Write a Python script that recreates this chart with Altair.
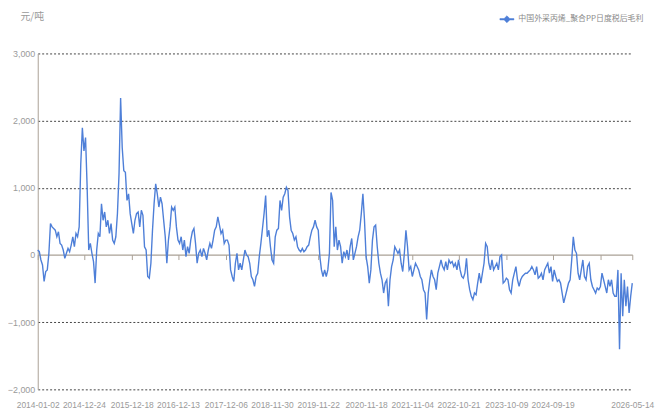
import altair as alt
import pandas as pd

series_name = "中国外采丙烯_聚合PP日度税后毛利"
unit_label = "元/吨"
line_color = "#4e7fd8"

# Daily after-tax margin (元/吨), in time order
seg_2014_2015 = [74, 49, -74, -148, -394, -246, -222, 25, 468, 418, 394, 369, 271, 345, 172, 148,
                 74, -49, 25, 98, 49, 148, 271, 123, 320, 271, 418, 1354, 1895, 1550, 1747, 1009,
                 74, 172, 25, -98, -418, 74, 320, 271, 763, 517, 640, 418, 517, 320, 468, 222,
                 172, 271, 615, 1206, 2338, 1600, 1255, 1230, 812, 911, 615, 468, 320, 517, 615]
seg_2016_2017 = [640, 418, 665, 591, 123, 74, -320, -345, -123, 369, 763, 1058, 911, 714, 862, 763,
                 517, 271, -123, 222, 418, 714, 665, 714, 418, 222, 172, 271, 74, 222, -25, 123,
                 25, 222, 345, 394, 172, -123, 25, 74, -25, 98, 25, -74, 74, 172, 98, 222, 369,
                 418, 566, 443, 320, 369, 172, 222, 222, 148, -222, -320, -394]
seg_2018_2020 = [-123, 25, -222, -123, -222, -74, 74, 0, -25, -123, -320, -369, -468, -320, -271,
                 -25, 172, 394, 615, 886, 271, 369, 123, -74, -123, 271, 369, 394, 812, 665, 862,
                 911, 1009, 960, 566, 369, 320, 222, 271, 123, 74, 49, 98, 49, 74, 123, 148, 271,
                 369, 418, 517, 418, 369, -25, -222, -320, -222, -320, -222, 25, 930]
seg_2020_2022 = [812, 123, 418, 74, 222, 123, -123, 49, -25, 74, -74, 123, 246, -74, 25, 123, 271,
                 369, 615, 911, 517, -25, -172, -418, -222, 222, 418, 443, 123, -123, -271, -369,
                 -566, -418, -369, -763, -369, -172, -74, 123, 74, 25, 74, -123, -246, 25, 369,
                 123, -222, -172, -320, -222, -123, -172, -222, -320, -369, -517, -566, -960,
                 -566, -369, -222, -320]
seg_2022_2024 = [-369, -517, -271, -172, -74, -172, -222, -98, -222, -74, -123, -98, -172, -123,
                 -222, -74, -222, -320, -345, -271, -49, -369, -517, -615, -665, -566, -591, -418,
                 -271, -418, -271, -123, 172, 123, -123, -222, -74, -222, -172, -123, -222, -25, 0,
                 -418, -394, -345, -369, -517, -566, -369, -271, -172, -369, -468, -369, -320,
                 -295, -271, -271, -246, -222]
seg_2024_2026 = [-172, -222, -295, -172, -345, -320, -271, -369, -222, -172, -123, -271, -172, -394,
                 -222, -320, -394, -369, -418, -566, -714, -615, -517, -418, -369, -74, 271, 74, 25,
                 -271, -369, -222, -74, -320, -369, -172, -123, -369, -468, -517, -566, -492, -517,
                 -468, -271, -369, -468, -566, -369, -468, -369, -566, -615, -615, -222, -1403,
                 -271, -911, -369, -763, -468, -862, -615, -418]

values = seg_2014_2015 + seg_2016_2017 + seg_2018_2020 + seg_2020_2022 + seg_2022_2024 + seg_2024_2026
n = len(values)

tick_labels = ["2014-01-02", "2014-12-24", "2015-12-18", "2016-12-13", "2017-12-06",
               "2018-11-30", "2019-11-22", "2020-11-18", "2021-11-04", "2022-10-21",
               "2023-10-09", "2024-09-19", "", "2026-05-14"]
y_ticks = [-2000, -1000, 0, 1000, 2000, 3000]

# category-axis label interval, as a share of the whole axis
interval_share = 47.27 / 600
tick_idx = [round(k * interval_share * (n - 1)) for k in range(len(tick_labels) - 1)] + [n - 1]

df = pd.DataFrame({"i": list(range(n)), "v": values, "s": [series_name] * n})

label_expr = (f"indexof({tick_idx}, datum.value) >= 0 ? "
              f"{tick_labels}[indexof({tick_idx}, datum.value)] : ''")

font = "'Liberation Sans', Arial, sans-serif"
cjk = "'Noto Sans CJK SC', sans-serif"
axis_tan = "#aaa196"
text_grey = "#9a9a9a"

x_scale = alt.Scale(domain=[0, n - 1], nice=False, zero=False)
y_scale = alt.Scale(domain=[-2000, 3000], nice=False, zero=False)

line = alt.Chart(df).mark_line(strokeWidth=1.4, interpolate="linear").encode(
    x=alt.X("i:Q", scale=x_scale,
            axis=alt.Axis(values=tick_idx, labelExpr=label_expr, orient="bottom", domain=False,
                          ticks=False, grid=False, labelPadding=11, labelColor=text_grey,
                          labelFontSize=8.5, labelFont=font, title=None, labelOverlap=False,
                          labelFlush=False)),
    y=alt.Y("v:Q", scale=y_scale,
            axis=alt.Axis(values=y_ticks, format=",.0f", grid=True, gridColor="#444444",
                          gridDash=[2, 2], gridWidth=1,
                          gridOpacity=alt.condition("datum.value === 0", alt.value(0), alt.value(1)),
                          domain=True, domainColor=axis_tan, ticks=False, labelPadding=3,
                          labelColor=text_grey, labelFontSize=9, labelFont=font,
                          title=unit_label, titleAngle=0, titleAlign="left",
                          titleBaseline="middle", titleX=-18, titleY=-37, titleColor=text_grey,
                          titleFontWeight="normal", titleFontSize=10, titleFont=cjk)),
    color=alt.Color("s:N", scale=alt.Scale(domain=[series_name], range=[line_color]),
                    legend=alt.Legend(orient="none", legendX=466, legendY=-42, title=None,
                                      symbolType="M-1,-0.1L-0.4,-0.1L0,-0.5L0.4,-0.1L1,-0.1L1,0.1L0.4,0.1L0,0.5L-0.4,0.1L-1,0.1Z",
                                      symbolSize=200, symbolFillColor=line_color,
                                      symbolStrokeColor=line_color, symbolStrokeWidth=0.5,
                                      labelColor="#8a8a8a", labelFontSize=8, labelLimit=400,
                                      labelFont=cjk, labelOffset=4)),
)

zero_axis = alt.Chart(df).mark_line(opacity=0).encode(
    x=alt.X("i:Q", scale=x_scale,
            axis=alt.Axis(values=tick_idx, orient="bottom", offset=-136, labels=False,
                          domain=True, domainColor=axis_tan, domainWidth=1.2, ticks=True,
                          tickColor=axis_tan, tickSize=5, grid=False, title=None)),
    y=alt.Y("v:Q", scale=y_scale),
)

chart = alt.layer(line, zero_axis).resolve_axis(x="independent").properties(
    width=600, height=339, autosize="none",
    padding={"left": 30, "top": 44, "right": 30, "bottom": 22},
    background="white",
).configure_view(strokeWidth=0)

chart.save("out.html", embed_options={"renderer": "svg", "actions": False})
